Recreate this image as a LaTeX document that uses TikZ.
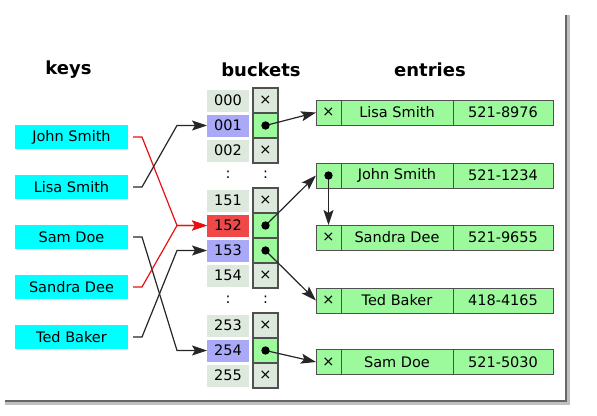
\documentclass[tikz,border=0pt]{standalone}
\usepackage{fontspec}
\setmainfont{DejaVu Sans}
\usetikzlibrary{positioning,arrows.meta}
\definecolor{keycyan}{HTML}{00FFFF}
\definecolor{slotgray}{HTML}{DDE9DD}
\definecolor{slotblue}{HTML}{A9A9F8}
\definecolor{slotred}{HTML}{EF4848}
\definecolor{cellgreen}{HTML}{9CF99C}
\definecolor{cellline}{HTML}{505050}
\definecolor{hashred}{HTML}{E81010}
\tikzset{every node/.style={font=\fontsize{14.5}{17}\selectfont, inner sep=0pt, outer sep=0pt},
        header/.style={font=\fontsize{18}{21}\selectfont\bfseries},
        key/.style={fill=keycyan, minimum width=113pt, minimum height=24pt},
        slot/.style={fill=slotgray, minimum width=42pt, minimum height=22pt},
        hotslot/.style={slot, fill=slotblue},
        clashslot/.style={slot, fill=slotred},
        ptrcell/.style={draw=cellline, line width=1.1pt, fill=slotgray, minimum size=25pt},
        liveptr/.style={ptrcell, fill=cellgreen},
        ecell/.style={draw=cellline, line width=1pt, fill=cellgreen, minimum height=25pt},
        elink/.style={ecell, minimum width=25pt},
        ename/.style={ecell, minimum width=112pt},
        ephone/.style={ecell, minimum width=100pt},
        link/.style={-{Stealth[length=15pt,width=10pt,inset=3pt]}, line width=1.2pt, black!85},
        hashlink/.style={link},
        clashlink/.style={link, hashred},
        }

\begin{document}
\begin{tikzpicture}[x=1pt,y=-1pt]
    \useasboundingbox (0,0) rectangle (597,415);
    % page shadow
    \draw[line width=5pt, black!25] (5,402) -- (567,402) -- (567,15);
    \draw[line width=2.5pt, black!60] (5,401) -- (566,401) -- (566,15);

    \node[header] (hkeys) at (68.5,70) {keys};
    \node[header] (hbuckets) at (261,70) {buckets};
    \node[header] (hentries) at (430,70) {entries};

    % keys
    \node[key] (kjohn) at (71.5,137) {John Smith};
    \node[key] (klisa) at (71.5,187) {Lisa Smith};
    \node[key] (ksam) at (71.5,237) {Sam Doe};
    \node[key] (ksandra) at (71.5,287) {Sandra Dee};
    \node[key] (kted) at (71.5,337) {Ted Baker};

    % buckets
    \node[slot] (b000) at (228,100.5) {000};
    \node[hotslot] (b001) at (228,125.5) {001};
    \node[slot] (b002) at (228,150.5) {002};
    \node (gap1) at (228,175) {:};
    \node[slot] (b151) at (228,200.5) {151};
    \node[clashslot] (b152) at (228,225.5) {152};
    \node[hotslot] (b153) at (228,250.5) {153};
    \node[slot] (b154) at (228,275.5) {154};
    \node (gap2) at (228,300) {:};
    \node[slot] (b253) at (228,325.5) {253};
    \node[hotslot] (b254) at (228,350.5) {254};
    \node[slot] (b255) at (228,375.5) {255};

    \node[ptrcell] (p000) at (265.5,100.5) {×};
    \node[liveptr] (p001) at (265.5,125.5) {};
    \node[ptrcell] (p002) at (265.5,150.5) {×};
    \node (gap3) at (265.5,175) {:};
    \node[ptrcell] (p151) at (265.5,200.5) {×};
    \node[liveptr] (p152) at (265.5,225.5) {};
    \node[liveptr] (p153) at (265.5,250.5) {};
    \node[ptrcell] (p154) at (265.5,275.5) {×};
    \node (gap4) at (265.5,300) {:};
    \node[ptrcell] (p253) at (265.5,325.5) {×};
    \node[liveptr] (p254) at (265.5,350.5) {};
    \node[ptrcell] (p255) at (265.5,375.5) {×};

    % entries
    \node[elink] (elisa) at (328.5,112.5) {×};
    \node[ename, right=0pt of elisa] (elisan) {Lisa Smith};
    \node[ephone, right=0pt of elisan] (elisat) {521-8976};

    \node[elink] (ejohn) at (328.5,175.5) {};
    \node[ename, right=0pt of ejohn] (ejohnn) {John Smith};
    \node[ephone, right=0pt of ejohnn] (ejohnt) {521-1234};

    \node[elink] (esandra) at (328.5,237.5) {×};
    \node[ename, right=0pt of esandra] (esandran) {Sandra Dee};
    \node[ephone, right=0pt of esandran] (esandrat) {521-9655};

    \node[elink] (eted) at (328.5,300.5) {×};
    \node[ename, right=0pt of eted] (etedn) {Ted Baker};
    \node[ephone, right=0pt of etedn] (etedt) {418-4165};

    \node[elink] (esam) at (328.5,362) {×};
    \node[ename, right=0pt of esam] (esamn) {Sam Doe};
    \node[ephone, right=0pt of esamn] (esamt) {521-5030};

    % hash function
    \draw[clashlink] ([xshift=5pt]kjohn.east) -- ++(9pt,0) -- ([xshift=-30pt]b152.west) -- (b152.west);
    \draw[hashlink] ([xshift=5pt]klisa.east) -- ++(9pt,0) -- ([xshift=-30pt]b001.west) -- (b001.west);
    \draw[hashlink] ([xshift=5pt]ksam.east) -- ++(9pt,0) -- ([xshift=-30pt]b254.west) -- (b254.west);
    \draw[clashlink] ([xshift=5pt]ksandra.east) -- ++(9pt,0) -- ([xshift=-30pt]b152.west) -- (b152.west);
    \draw[hashlink] ([xshift=5pt]kted.east) -- ++(9pt,0) -- ([xshift=-30pt]b153.west) -- (b153.west);

    % pointers
    \draw[link] (p001.center) -- (elisa.west);
    \draw[link] (p152.center) -- (ejohn.west);
    \draw[link] (p153.center) -- (eted.west);
    \draw[link] (p254.center) -- (esam.west);
    \draw[link] (ejohn.center) -- (esandra.north);
    \fill (p001.center) circle (4.2pt);
    \fill (p152.center) circle (4.2pt);
    \fill (p153.center) circle (4.2pt);
    \fill (p254.center) circle (4.2pt);
    \fill (ejohn.center) circle (4.2pt);
\end{tikzpicture}
\end{document}
